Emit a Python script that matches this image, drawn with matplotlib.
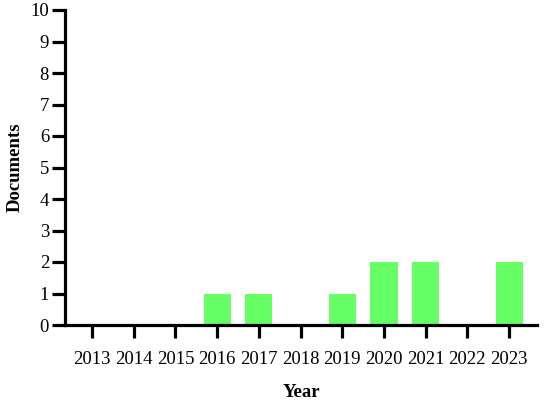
import matplotlib
matplotlib.use("Agg")
import matplotlib.pyplot as plt

years = ["2013", "2014", "2015", "2016", "2017", "2018", "2019", "2020", "2021", "2022", "2023"]
documents = [0, 0, 0, 1, 1, 0, 1, 2, 2, 0, 2]
yticks = list(range(0, 11))

plt.rcParams['font.family'] = ['Liberation Serif', 'DejaVu Serif']

fig = plt.figure(figsize=(5.5, 4.07), dpi=100)
ax = fig.add_axes([65/550, 1-325/407, (537-65)/550, (325-10)/407])
x = list(range(len(years)))
ax.bar(x, documents, width=0.65, color='#66ff66', zorder=2)
ax.set_xlim(-0.65, 10.67)
ax.set_ylim(0, 10)
ax.set_xticks(x)
ax.set_xticklabels(years, fontsize=13.5)
ax.set_yticks(yticks)
ax.set_yticklabels([str(v) for v in yticks], fontsize=13.5)
for s in ['top', 'right']:
    ax.spines[s].set_visible(False)
for s in ['left', 'bottom']:
    ax.spines[s].set_linewidth(2.3)
ax.tick_params(axis='both', width=2.3, length=9.5, color='black')
ax.tick_params(axis='x', pad=9)
ax.tick_params(axis='y', pad=2)
ax.set_xlabel("Year", fontsize=13.5, fontweight='bold', labelpad=12)
ax.set_ylabel("Documents", fontsize=13.5, fontweight='bold', labelpad=5)
fig.savefig("out.png", dpi=100)
